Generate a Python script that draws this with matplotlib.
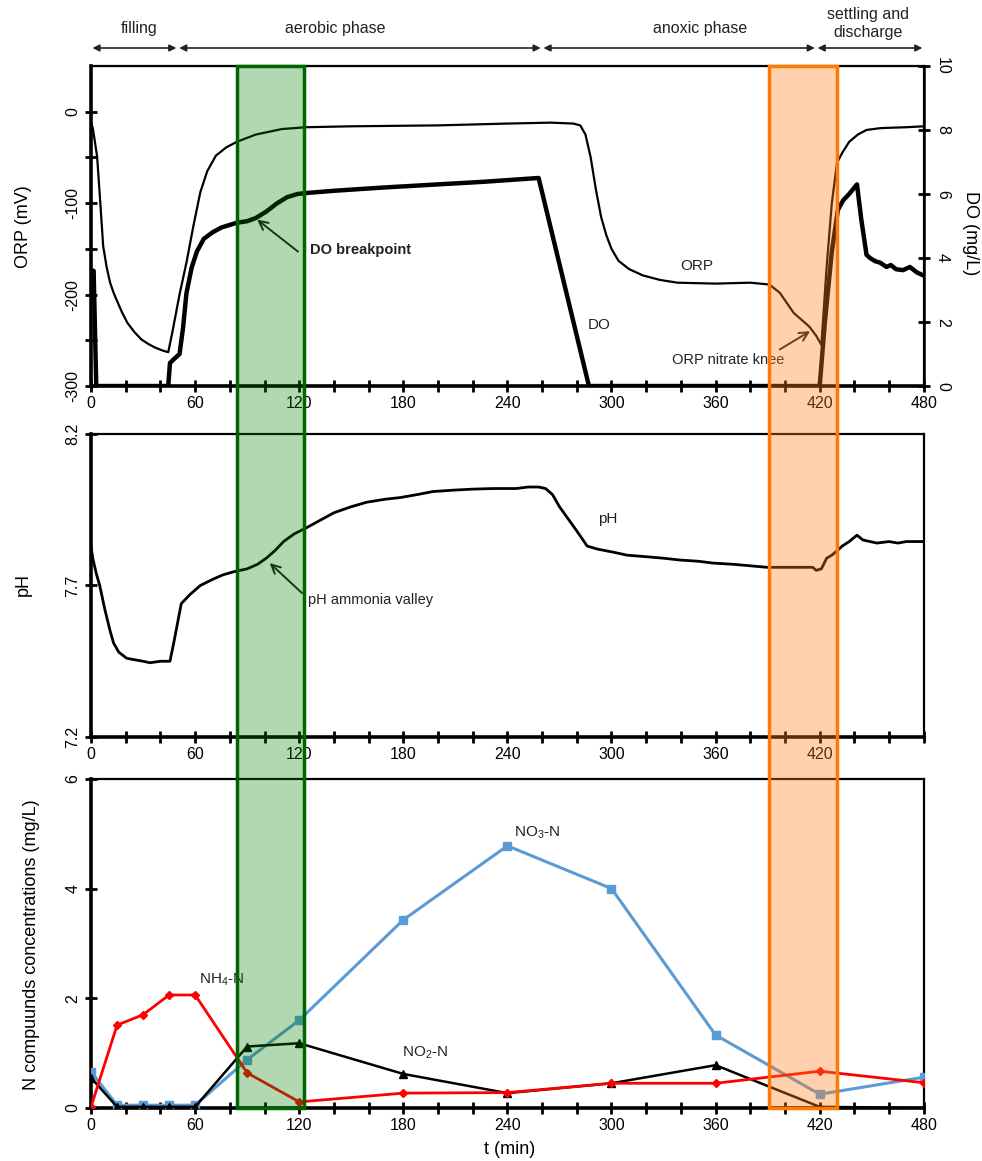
import numpy as np
import matplotlib
matplotlib.use("Agg")
import matplotlib.pyplot as plt
from matplotlib.patches import Rectangle
from matplotlib.transforms import blended_transform_factory

plt.rcParams['font.family'] = ['Liberation Sans', 'DejaVu Sans']
plt.rcParams['mathtext.default'] = 'regular'
plt.rcParams['axes.unicode_minus'] = False

# ORP (mV)
t_orp = [0, 1, 2, 3.5, 5, 7, 9, 11, 13, 15, 18, 21, 25, 29, 33, 37, 41, 44.5, 47, 51, 55, 59, 63, 67,
         72, 78, 84, 95, 110, 124, 150, 200, 240, 265, 278, 282, 285, 288, 291, 294, 297, 300, 304, 310,
         318, 328, 338, 360, 380, 391, 397, 405, 414, 418, 421, 424, 427, 430, 433, 437, 442, 447, 455,
         462, 470, 480]
orp = [-12, -18, -30, -49, -90, -147, -170, -187, -198, -207, -220, -231, -241, -249, -254, -258, -261,
       -263, -240, -200, -165, -125, -88, -65, -48, -39, -33, -25, -19, -17, -16, -15, -13, -12, -13,
       -15, -25, -50, -85, -115, -135, -150, -163, -172, -179, -184, -187, -188, -187, -189, -198, -220,
       -235, -245, -255, -170, -100, -56, -45, -33, -25, -20, -18, -17.5, -17, -16]

# DO (mg/L)
t_do = [0, 1.5, 3, 44.5, 45.5, 48, 51, 53, 55, 58, 61, 65, 70, 75, 84, 90, 95, 101, 107, 113, 119, 124,
        140, 168, 200, 226, 258, 287, 420, 423, 427, 430.5, 433.5, 437, 441.5, 444, 447, 449, 452, 455,
        458.5, 461, 464, 468, 472, 476, 480]
do = [3.6, 3.6, 0, 0, 0.72, 0.85, 1.0, 1.8, 2.9, 3.7, 4.2, 4.6, 4.8, 4.95, 5.1, 5.15, 5.25, 5.45, 5.7,
      5.9, 6.0, 6.03, 6.1, 6.2, 6.3, 6.38, 6.5, 0, 0, 2.0, 4.2, 5.5, 5.8, 6.0, 6.3, 5.2, 4.1, 4.0, 3.9,
      3.85, 3.72, 3.78, 3.65, 3.62, 3.72, 3.55, 3.45]

# pH
t_ph = [0, 1, 3, 5, 8, 11, 13, 16, 20.5, 25, 30, 34, 40, 45.5, 48, 52, 57, 63, 70, 76, 82, 90, 96, 101,
        106, 111, 117, 124, 132, 140, 150, 159, 170, 178, 188, 197, 210, 220, 232, 245, 252, 258, 262,
        266, 270, 275, 280, 286, 292, 301, 309, 320, 330, 339.5, 350, 358.5, 370, 380, 389.6, 400, 410,
        416, 418, 421, 424, 427, 430.5, 433, 437, 441.5, 445, 449, 453, 460, 465, 470, 475, 480]
ph = [7.83, 7.79, 7.74, 7.70, 7.62, 7.55, 7.51, 7.48, 7.46, 7.455, 7.45, 7.445, 7.45, 7.45, 7.52, 7.64,
      7.67, 7.70, 7.72, 7.735, 7.745, 7.755, 7.77, 7.79, 7.815, 7.845, 7.87, 7.89, 7.915, 7.94, 7.96,
      7.975, 7.985, 7.99, 8.0, 8.01, 8.015, 8.018, 8.02, 8.02, 8.025, 8.025, 8.02, 8.0, 7.96, 7.92, 7.88,
      7.83, 7.82, 7.81, 7.80, 7.795, 7.79, 7.784, 7.78, 7.774, 7.77, 7.765, 7.76, 7.76, 7.76, 7.76, 7.75,
      7.755, 7.79, 7.80, 7.817, 7.83, 7.845, 7.866, 7.85, 7.845, 7.84, 7.845, 7.84, 7.845, 7.845, 7.845]

# N compounds (mg/L)
t_n = [0, 15, 30, 45, 60, 90, 120, 180, 240, 300, 360, 420, 480]
nh4 = [0.02, 1.51, 1.70, 2.06, 2.06, 0.64, 0.11, 0.27, 0.28, 0.45, 0.45, 0.67, 0.46]
no2 = [0.55, 0.02, 0.02, 0.02, 0.02, 1.12, 1.18, 0.62, 0.27, 0.45, 0.78, 0.02, 0.0]
no3 = [0.66, 0.05, 0.05, 0.05, 0.05, 0.88, 1.60, 3.43, 4.78, 4.00, 1.33, 0.25, 0.56]

phases = ['filling', 'aerobic phase', 'anoxic phase', 'settling and\ndischarge']
phase_bounds = [0, 50, 260, 418, 480]
green_band = (84, 123)
orange_band = (391, 430)

fig = plt.figure(figsize=(9.82, 11.61), dpi=100)
ax1 = fig.add_axes([0.0927, 0.6675, 0.848, 0.2757])
ax2 = fig.add_axes([0.0927, 0.3652, 0.848, 0.2610])
ax3 = fig.add_axes([0.0927, 0.0457, 0.848, 0.2834])
ax1b = ax1.twinx()

arrow_kw = dict(arrowstyle='->', color='#1a1a1a', lw=1.4, mutation_scale=16, shrinkA=0, shrinkB=0)


def style_axis(ax):
    ax.set_xlim(0, 480)
    ax.set_xticks(np.arange(0, 481, 60))
    ax.set_xticks(np.arange(0, 481, 20), minor=True)
    ax.tick_params(axis='both', which='both', direction='inout', length=9, width=2,
                   labelsize=11.5, pad=3)
    ax.tick_params(axis='y', labelrotation=90)
    for s in ['left', 'bottom']:
        ax.spines[s].set_linewidth(2.6)
    for s in ['top', 'right']:
        ax.spines[s].set_linewidth(1.6)


# top panel: ORP + DO
style_axis(ax1)
ax1.set_ylim(-300, 50)
ax1.set_yticks([-300, -200, -100, 0])
ax1.set_yticks([-250, -150, -50], minor=True)
ax1.plot(t_orp, orp, color='black', lw=1.6, zorder=3)
for lab in ax1.get_yticklabels():
    lab.set_va('center')

ax1b.set_xlim(0, 480)
ax1b.set_ylim(0, 10)
ax1b.set_yticks(np.arange(0, 11, 2))
ax1b.tick_params(axis='y', direction='inout', length=9, width=2, labelsize=11.5, labelrotation=-90)
for lab in ax1b.get_yticklabels():
    lab.set_va('center')
ax1b.spines['right'].set_linewidth(1.8)
ax1b.plot(t_do, do, color='black', lw=3.2, zorder=3)

ax1.text(349, -169, 'ORP', fontsize=11, ha='center', va='center', color='#222222')
ax1.text(293, -233, 'DO', fontsize=11, ha='center', va='center', color='#222222')
ax1.text(367, -271, 'ORP nitrate knee', fontsize=10.5, ha='center', va='center', color='#222222')
ax1.annotate('', xy=(414.5, -240), xytext=(397, -260), arrowprops=arrow_kw)
ax1.annotate('', xy=(95.7, -118), xytext=(119.3, -153), arrowprops=arrow_kw)
ax1.text(126, -151, 'DO breakpoint', fontsize=10.5, fontweight='bold', ha='left', va='center',
         color='#222222')
ax1.set_zorder(ax1b.get_zorder() - 1)

# middle panel: pH
style_axis(ax2)
ax2.set_ylim(7.2, 8.2)
ax2.set_yticks([7.2, 7.7, 8.2])
ax2.set_yticklabels(['7.2', '7.7', '8.2'])
ax2.set_xticklabels([str(v) for v in range(0, 421, 60)] + [''])
for lab in ax2.get_yticklabels():
    lab.set_va('center')
ax2.plot(t_ph, ph, color='black', lw=2, zorder=3)
ax2.text(298, 7.92, 'pH', fontsize=11, ha='center', va='center', color='#222222')
ax2.annotate('', xy=(103, 7.774), xytext=(121.6, 7.675), arrowprops=arrow_kw)
ax2.text(125, 7.652, 'pH ammonia valley', fontsize=10.5, ha='left', va='center', color='#222222')

# bottom panel: N compounds
style_axis(ax3)
ax3.set_ylim(0, 6)
ax3.set_yticks([0, 2, 4, 6])
for lab in ax3.get_yticklabels():
    lab.set_va('center')
ax3.plot(t_n, no3, color='#5B9BD5', lw=2.2, marker='s', ms=6, zorder=3)
ax3.plot(t_n, no2, color='black', lw=1.8, marker='^', ms=6, zorder=4)
ax3.plot(t_n, nh4, color='#FF0000', lw=2, marker='D', ms=4, zorder=5)
ax3.text(62, 2.34, 'NH$_4$-N', fontsize=11, ha='left', va='center', color='#222222')
ax3.text(179, 1.0, 'NO$_2$-N', fontsize=11, ha='left', va='center', color='#222222')
ax3.text(244, 5.02, 'NO$_3$-N', fontsize=11, ha='left', va='center', color='#222222')

# axis titles
fig.text(23 / 982, 1 - 227 / 1161, 'ORP (mV)', rotation=90, ha='center', va='center', fontsize=13)
fig.text(970 / 982, 1 - 233 / 1161, 'DO (mg/L)', rotation=-90, ha='center', va='center', fontsize=13)
fig.text(23 / 982, 1 - 585 / 1161, 'pH', rotation=90, ha='center', va='center', fontsize=13)
fig.text(32 / 982, 1 - 945 / 1161, 'N compuunds concentrations (mg/L)', rotation=90,
         ha='center', va='center', fontsize=13)
fig.text(510 / 982, 1 - 1150 / 1161, 't (min)', ha='center', va='center', fontsize=13)

# shaded windows over the three panels
tr = blended_transform_factory(ax3.transData, fig.transFigure)
y0, y1 = 0.0457, 0.9432
fig.add_artist(Rectangle((green_band[0], y0), green_band[1] - green_band[0], y1 - y0, transform=tr,
                         facecolor=(0.0, 0.5, 0.0, 0.3), edgecolor='#006400', lw=2.5, zorder=10))
fig.add_artist(Rectangle((orange_band[0], y0), orange_band[1] - orange_band[0], y1 - y0, transform=tr,
                         facecolor=(1.0, 0.5, 0.1, 0.36), edgecolor='#FF7A00', lw=2.5, zorder=10))

# phase arrows along the top
tr1 = blended_transform_factory(ax1.transData, fig.transFigure)
ya = 1 - 48 / 1161
for i, name in enumerate(phases):
    a, b = phase_bounds[i], phase_bounds[i + 1]
    ax1.annotate('', xy=(b, ya), xytext=(a, ya), xycoords=tr1, textcoords=tr1,
                 arrowprops=dict(arrowstyle='<|-|>', color='#222222', lw=1.2, mutation_scale=10,
                                 shrinkA=1, shrinkB=1), annotation_clip=False)
label_x = [28, 141, 351, 448]
label_y = [1 - 28 / 1161, 1 - 28 / 1161, 1 - 28 / 1161, 1 - 24 / 1161]
for name, lx, ly in zip(phases, label_x, label_y):
    fig.text(lx, ly, name, transform=tr1, ha='center', va='center', fontsize=11.5,
             linespacing=1.25, color='#222222')

fig.savefig('out.png', dpi=100)
